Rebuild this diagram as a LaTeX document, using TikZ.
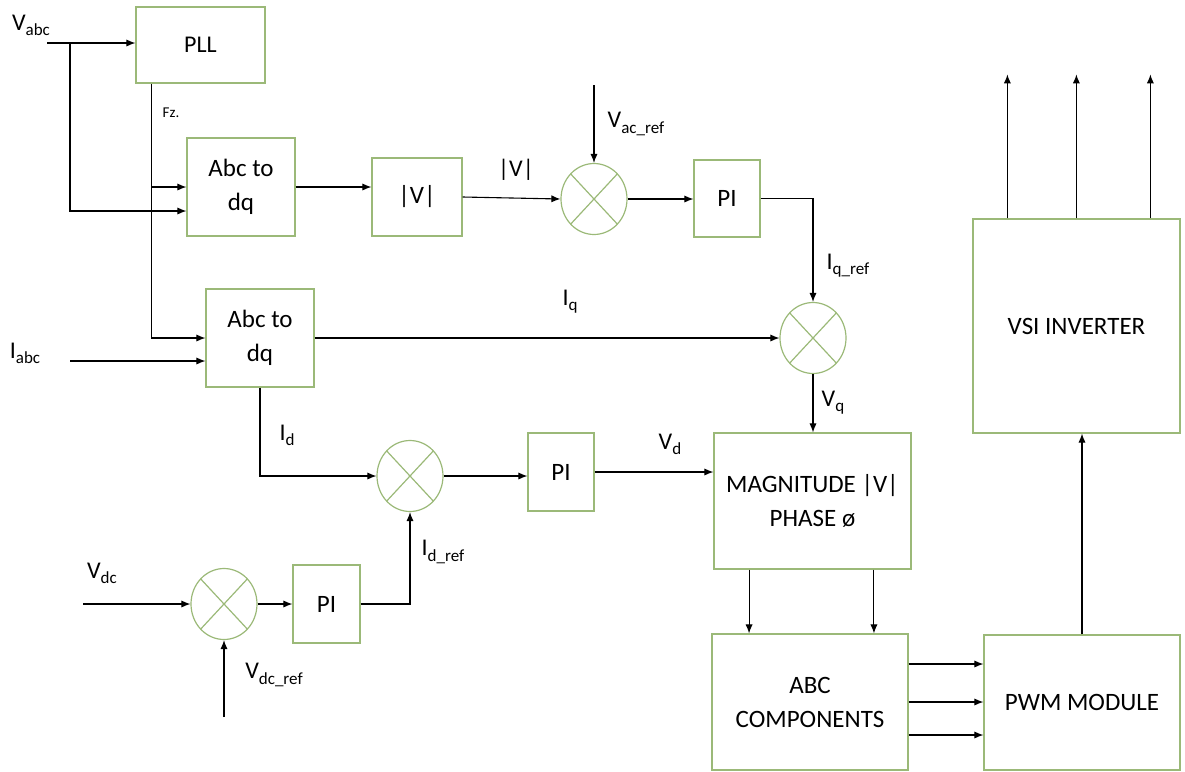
\documentclass[tikz,border=0pt]{standalone}
\usepackage{fontspec}
\setmainfont{Carlito}
\usetikzlibrary{arrows.meta,shapes.geometric,calc}
\definecolor{bx}{RGB}{155,185,120}
\newcommand\lsub[1]{\raisebox{-0.45ex}{\fontsize{8.5}{9}\selectfont #1}}
\begin{document}
\begin{tikzpicture}[x=0.5pt,y=-0.5pt,
 box/.style={draw=bx,line width=0.6pt,fill=white,align=center,inner sep=0pt,font=\fontsize{12.5}{17}\selectfont},
 sumj/.style={ellipse,draw=bx,line width=0.6pt,minimum width=33pt,minimum height=35.5pt,inner sep=0pt,
   path picture={\draw[bx,line width=0.6pt] (path picture bounding box.south west)--(path picture bounding box.north east) (path picture bounding box.north west)--(path picture bounding box.south east);}},
 sig/.style={line width=0.55pt,-{Latex[length=4.5pt,width=3.6pt]}},
 wire/.style={line width=0.55pt},
 lbl/.style={font=\fontsize{12}{14}\selectfont,inner sep=0pt}]
\useasboundingbox (0,0) rectangle (1185,772);

% boxes
\node[box,minimum width=64.5pt,minimum height=38pt,font=\fontsize{12}{14}\selectfont] (pll) at (200.5,45) {PLL};
\node[box,minimum width=54pt,minimum height=49pt] (abc1) at (241,187) {Abc to\\dq};
\node[box,minimum width=45pt,minimum height=39pt] (vmag) at (417,197) {|V|};
\node[box,minimum width=33pt,minimum height=38.5pt] (pi1) at (727,198.5) {PI};
\node[box,minimum width=54pt,minimum height=49pt] (abc2) at (260,338) {Abc to\\dq};
\node[box,minimum width=33pt,minimum height=39pt] (pi2) at (561,472) {PI};
\node[box,minimum width=98.5pt,minimum height=68pt] (mag) at (812.5,501) {MAGNITUDE |V|\\PHASE ø};
\node[box,minimum width=98pt,minimum height=68pt] (abc) at (810,702) {ABC\\COMPONENTS};
\node[box,minimum width=98pt,minimum height=67.5pt] (pwm) at (1082,702.5) {PWM MODULE};
\node[box,minimum width=103.5pt,minimum height=107pt] (vsi) at (1076.5,326) {VSI INVERTER};
\node[box,minimum width=33.5pt,minimum height=39pt] (pi3) at (326.5,604) {PI};

% summing junctions
\node[sumj] (s1) at (594,199) {};
\node[sumj] (s2) at (813,338) {};
\node[sumj] (s3) at (410,476) {};
\node[sumj] (s4) at (224,604) {};

% free ends
\coordinate (vabcin) at (47,43);
\coordinate (vb) at (70,43);
\coordinate (pllout) at ([xshift=8pt]pll.south west);
\coordinate (vacref) at (594,85);
\coordinate (iabcin) at (70,361);
\coordinate (vdcin) at (83,604);
\coordinate (vdcref) at (224,717);
\coordinate (m1) at ($(mag.south west)!0.18!(mag.south east)$);
\coordinate (m2) at ($(mag.south west)!0.81!(mag.south east)$);

% connectors
\draw[sig] (vabcin) -- (vabcin -| pll.west);
\draw[sig] (vb) |- ([yshift=-12pt]abc1.west);
\draw[sig] (pllout) |- (abc2.west);
\draw[sig] (pllout |- abc1.west) -- (abc1.west);
\draw[sig] (abc1.east) -- (abc1.east -| vmag.west);
\draw[sig] (vmag.east) -- (s1.west);
\draw[sig] (vacref) -- (s1.north);
\draw[sig] (s1.east) -- (s1.east -| pi1.west);
\draw[sig] (pi1.east) -| (s2.north);
\draw[sig] (abc2.east) -- (s2.west);
\draw[sig] (iabcin) -- (iabcin -| abc2.west);
\draw[sig] (abc2.south) |- (s3.west);
\draw[sig] (s3.east) -- (s3.east -| pi2.west);
\draw[sig] (pi2.east) -- (pi2.east -| mag.west);
\draw[sig] (s2.south) -- (s2.south |- mag.north);
\draw[sig] (m1) -- (m1 |- abc.north);
\draw[sig] (m2) -- (m2 |- abc.north);
\draw[sig] ([yshift=19pt]abc.east) -- ([yshift=19pt]abc.east -| pwm.west);
\draw[sig] (abc.east) -- (abc.east -| pwm.west);
\draw[sig] ([yshift=-16.5pt]abc.east) -- ([yshift=-16.5pt]abc.east -| pwm.west);
\draw[sig] (pwm.north) -- (pwm.north |- vsi.south);
\draw[sig] ([xshift=17.5pt]vsi.north west) -- ++(0,-144);
\draw[sig] ([xshift=52pt]vsi.north west) -- ++(0,-144);
\draw[sig] ([xshift=89pt]vsi.north west) -- ++(0,-144);
\draw[sig] (vdcin) -- (s4.west);
\draw[sig] (s4.east) -- (pi3.west);
\draw[sig] (pi3.east) -| (s3.south);
\draw[sig] (vdcref) -- (s4.south);

% labels
\node[lbl] (lvabc) at (31,25) {V\lsub{abc}};
\node[inner sep=0pt,font=\fontsize{7.5}{8}\selectfont] (lfz) at (171,113) {Fz.};
\node[lbl] (lvm) at (516,170) {|V|};
\node[lbl] (lvac) at (636,124) {V\lsub{ac\_ref}};
\node[lbl] (liqref) at (848,266) {I\lsub{q\_ref}};
\node[lbl] (liq) at (570,302) {I\lsub{q}};
\node[lbl] (liabc) at (25,353) {I\lsub{abc}};
\node[lbl] (lid) at (287,435) {I\lsub{d}};
\node[lbl] (lvd) at (670,444) {V\lsub{d}};
\node[lbl] (lvq) at (833,403) {V\lsub{q}};
\node[lbl] (lidref) at (443,552) {I\lsub{d\_ref}};
\node[lbl] (lvdc) at (102,573) {V\lsub{dc}};
\node[lbl] (lvdcref) at (274,675) {V\lsub{dc\_ref}};
\end{tikzpicture}
\end{document}
